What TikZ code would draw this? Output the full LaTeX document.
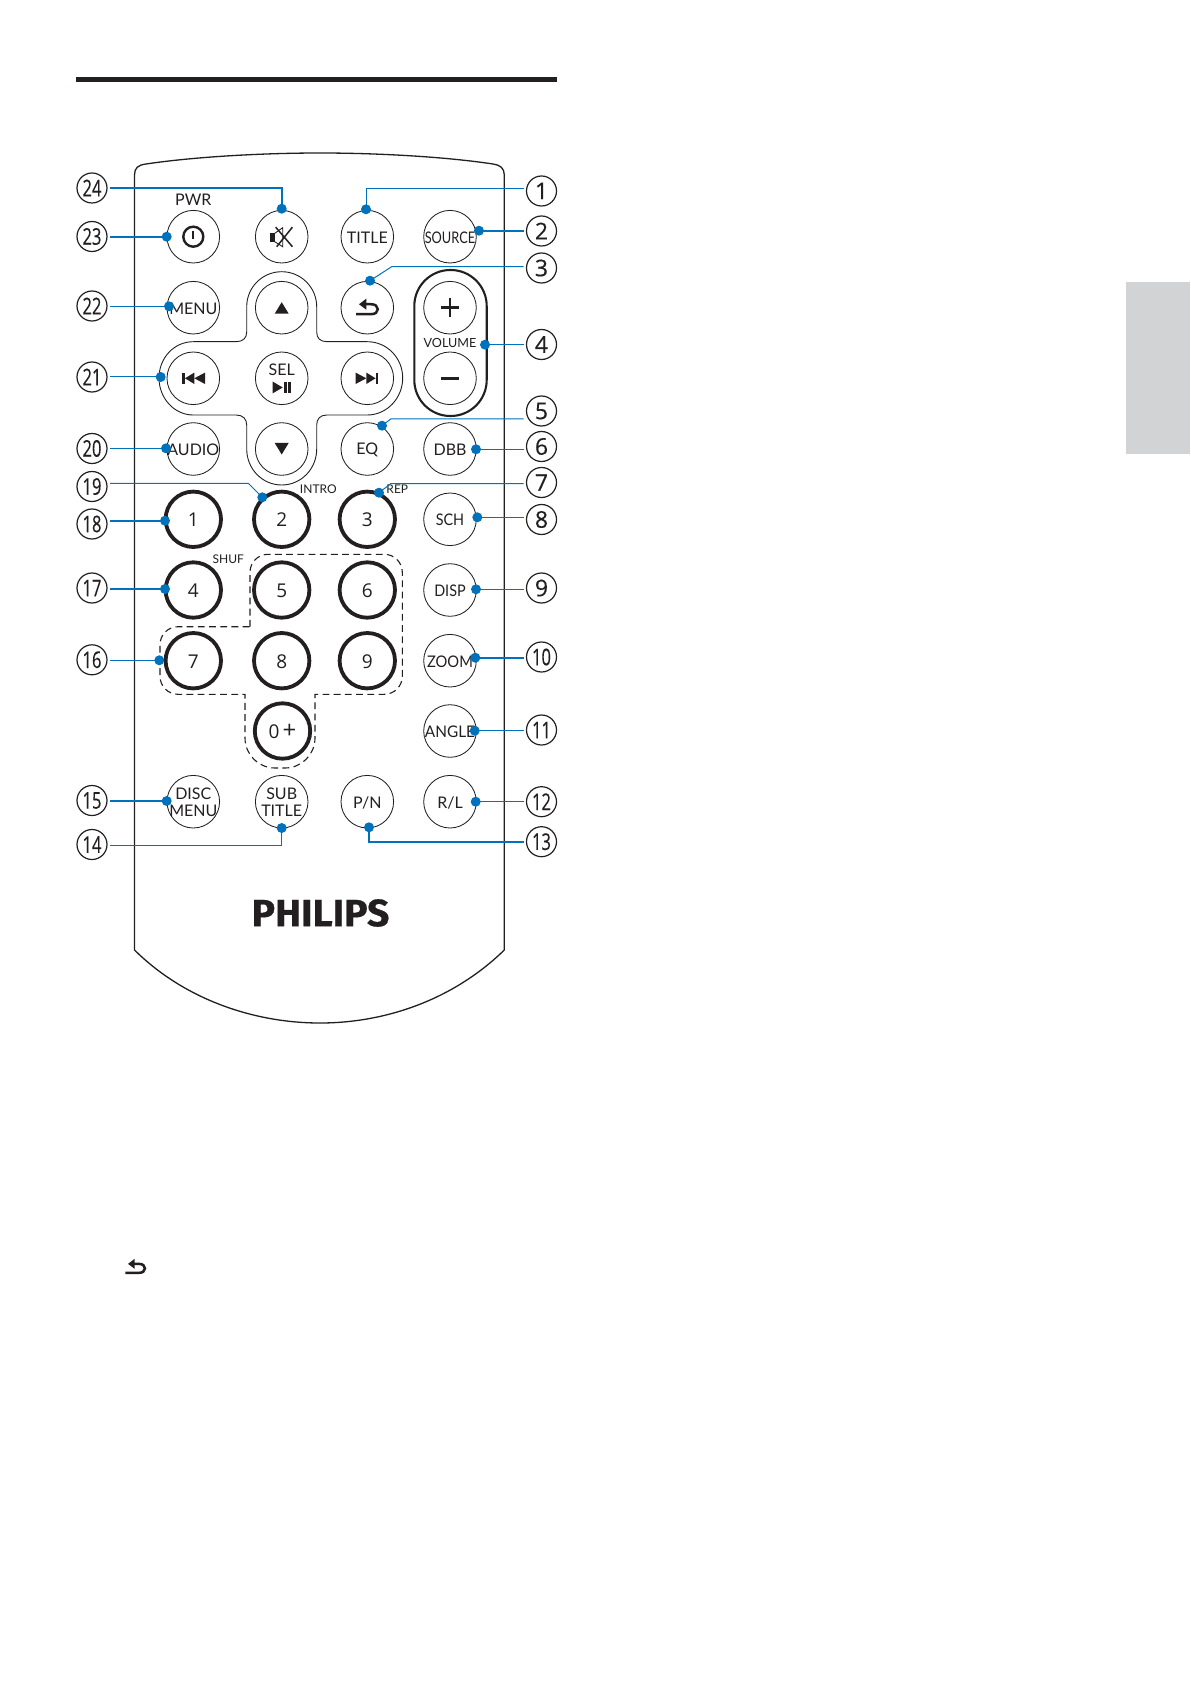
\documentclass[tikz,border=0pt]{standalone}
\usepackage{fontspec}
\usepackage{graphicx}
\setmainfont{Lato}
\newfontfamily\digitfont{Open Sans}
\newfontfamily\calloutfont{Open Sans}[FakeBold=.35]
\newfontfamily\logofont{Fira Sans Bold}[FakeBold=.5]
\definecolor{ink}{HTML}{231F20}
\definecolor{leadblue}{HTML}{0072BC}
\definecolor{tabgrey}{HTML}{D1D3D4}
\tikzset{
  px/.style={x=.5pt,y=-.5pt},
  btn/.style={circle,draw=ink,line width=.42pt,fill=white,minimum size=26.3pt,inner sep=0pt},
  numbtn/.style={circle,draw=ink,line width=1.9pt,fill=white,minimum size=27.7pt,inner sep=0pt},
  btntxt/.style={inner sep=0pt,yshift=-.4pt,text=ink,font=\fontsize{8}{8.4}\selectfont,align=center},
  numtxt/.style={inner sep=0pt,yshift=-.4pt,text=ink,font=\digitfont\fontsize{9.5}{9.5}\selectfont},
  smalltxt/.style={inner sep=0pt,text=ink,font=\fontsize{6}{6}\selectfont},
  callout/.style={circle,draw=ink,line width=.6pt,minimum size=15pt,inner sep=0pt,outer sep=1.5pt,text=ink,font=\calloutfont\fontsize{11.5}{11.5}\selectfont},
  dotn/.style={circle,fill=leadblue,minimum size=5pt,inner sep=0pt},
  leadthin/.style={draw=leadblue,line width=.5pt},
  leadthick/.style={draw=leadblue,line width=.9pt},
  iconfill/.style={fill=ink,draw=none},
}
\newcommand{\btnode}[5][btn]{%
  \node[#1] (#2) at (#3,#4) {};
  \node[btntxt] (#2-t) at (#2) {#5};}
\newcommand{\numnode}[4]{%
  \node[numbtn] (#1) at (#2,#3) {};
  \node[numtxt] (#1-t) at (#1) {#4};}
\newcommand{\twodig}[1]{\scalebox{.72}[1]{#1}}
\newcommand{\backglyph}{%
  \draw[ink,line width=1.25pt] (-11.3,6.5) -- (3.5,6.5) .. controls (8,6.5) and (10.5,4.5) .. (10.5,1.5) .. controls (10.5,-1.5) and (8,-3.5) .. (3.5,-3.5) -- (-3,-3.5);
  \fill[iconfill] (-8.3,-3.5) -- (-1,-9) -- (-1,2) -- cycle;}
\begin{document}
\begin{tikzpicture}[px]
\useasboundingbox (0,0) rectangle (1190,1684);
\fill[white] (0,0) rectangle (1190,1684);
% page furniture
\fill[ink] (76,76.8) rectangle (557,82);
\fill[tabgrey] (1126,282) rectangle (1190,454);
% remote body
\draw[ink,line width=.65pt] (134.5,950) -- (134.5,175) .. controls (134.5,168) and (138,165) .. (146,164) .. controls (200,156) and (270,153) .. (320,153) .. controls (370,153) and (440,156) .. (493,164) .. controls (500,165) and (504.3,168) .. (504.3,175) -- (504.3,950) .. controls (453,1000) and (385,1023) .. (320,1023) .. controls (255,1023) and (185,1000) .. (134.5,950) -- cycle;
% d-pad outline
\draw[ink,line width=.45pt] (246.7,306.7) .. controls (246.7,287.4) and (262.4,271.7) .. (281.7,271.7) .. controls (301,271.7) and (316.7,287.4) .. (316.7,306.7) -- (316.7,332) .. controls (316.7,338) and (320,341.7) .. (327,341.7) -- (367.3,341.7) .. controls (387,341.7) and (402.7,358) .. (402.7,378) .. controls (402.7,398) and (387,415) .. (367.3,415) -- (327,415) .. controls (320,415) and (316.7,419) .. (316.7,425) -- (316.7,449) .. controls (316.7,469) and (301,485) .. (281.7,485) .. controls (262.4,485) and (246.7,469) .. (246.7,449) -- (246.7,425) .. controls (246.7,419) and (243,415) .. (236,415) -- (193.3,415) .. controls (174,415) and (159,398) .. (159,378) .. controls (159,358) and (174,341.7) .. (193.3,341.7) -- (236,341.7) .. controls (243,341.7) and (246.7,338) .. (246.7,332) -- cycle;
% volume pill
\draw[ink,line width=1.05pt,rounded corners=18pt] (414.3,270) rectangle (486.7,416);
% dashed group
\draw[ink,line width=.55pt,dash pattern=on 3.4pt off 2.2pt]
  (250,626.7) [rounded corners=9pt] -- (250,554.3) -- (402.3,554.3) -- (402.3,694.3) [sharp corners] -- (315,694.3) [rounded corners=15pt] -- (315,768) -- (245,768) [sharp corners] -- (245,694.3) [rounded corners=9pt] -- (160,694.3) -- (160,626.7) [sharp corners] -- cycle;
% buttons
\btnode{pwr}{193.3}{236.7}{}
\btnode{mute}{281.7}{236.7}{}
\btnode{title}{367.3}{236.7}{TITLE}
\btnode{source}{450}{236.7}{\scalebox{.8}[1]{SOURCE}}
\btnode{menu}{193.3}{307.7}{MENU}
\btnode{up}{281.7}{307.7}{}
\btnode{back}{367.3}{307.7}{}
\btnode{plus}{450}{307.7}{}
\btnode{prev}{193.3}{378.3}{}
\btnode{sel}{281.7}{378.3}{}
\btnode{next}{367.3}{378.3}{}
\btnode{minus}{450}{378.3}{}
\btnode{audio}{193.3}{449}{AUDIO}
\btnode{down}{281.7}{449}{}
\btnode{eq}{367.3}{449}{EQ}
\btnode{dbb}{450}{449}{DBB}
\btnode{sch}{450}{519.3}{\scalebox{.9}[1]{SCH}}
\btnode{disp}{450}{590}{\scalebox{.9}[1]{DISP}}
\btnode{zoom}{450}{660.7}{\scalebox{.92}[1]{ZOOM}}
\btnode{angle}{450}{731}{\scalebox{.96}[1]{ANGLE}}
\btnode{discmenu}{193.3}{801.7}{DISC\\MENU}
\btnode{subtitle}{281.7}{801.7}{SUB\\TITLE}
\btnode{pn}{367.3}{801.7}{P/N}
\btnode{rl}{450}{801.7}{R/L}
% number buttons
\numnode{n1}{193.3}{519.3}{1}
\numnode{n2}{281.7}{519.3}{2}
\numnode{n3}{367.3}{519.3}{3}
\numnode{n4}{193.3}{590}{4}
\numnode{n5}{281.7}{590}{5}
\numnode{n6}{367.3}{590}{6}
\numnode{n7}{193.3}{660.7}{7}
\numnode{n8}{281.7}{660.7}{8}
\numnode{n9}{367.3}{660.7}{9}
\numnode{n0}{282.5}{731}{0\,{\fontsize{12}{12}\selectfont +}}
% small labels
\node[btntxt] (lpwr) at (193.3,199) {PWR};
\node[smalltxt] (lvol) at (450,343) {\fontsize{6.3}{6.3}\selectfont VOLUME};
\node[smalltxt] (lintro) at (318.3,489) {INTRO};
\node[smalltxt] (lrep) at (397.3,489) {REP};
\node[smalltxt] (lshuf) at (228.3,559) {SHUF};
\node[inner sep=0pt,text=ink] (logo) at (320.5,913) {\scalebox{1.03}[1]{\logofont\fontsize{19}{19}\selectfont PHILIPS}};
% icons
\begin{scope}[shift={(pwr.center)}]
  \draw[ink,line width=1.2pt] (0,0) circle[radius=10];
  \draw[ink,line width=.9pt] (0,-6) -- (0,2);
\end{scope}
\begin{scope}[shift={(mute.center)}]
  \fill[iconfill] (-11.7,-3.3) rectangle (-7,5);
  \draw[ink,line width=.45pt] (-7,-3.3) -- (1,-9) -- (1,10) -- (-7,5);
  \draw[ink,line width=.75pt] (-6,-9.5) -- (10.7,10) (10.7,-9.5) -- (-5,10);
\end{scope}
\begin{scope}[shift={(up.center)}]
  \fill[iconfill] (0,-5.5) -- (-7,6) -- (7,6) -- cycle;
\end{scope}
\begin{scope}[shift={(down.center)}]
  \fill[iconfill] (0,5.5) -- (-7,-6) -- (7,-6) -- cycle;
\end{scope}
\begin{scope}[shift={(prev.center)}]
  \fill[iconfill] (-11,-5.7) rectangle (-8.6,5.7);
  \fill[iconfill] (-8.3,0) -- (1,-5.7) -- (1,5.7) -- cycle;
  \fill[iconfill] (1,0) -- (11.7,-5.7) -- (11.7,5.7) -- cycle;
\end{scope}
\begin{scope}[shift={(next.center)}]
  \fill[iconfill] (11,-5.7) rectangle (8.6,5.7);
  \fill[iconfill] (8.3,0) -- (-1,-5.7) -- (-1,5.7) -- cycle;
  \fill[iconfill] (-1,0) -- (-11.7,-5.7) -- (-11.7,5.7) -- cycle;
\end{scope}
\begin{scope}[shift={(sel.center)}]
  \node[btntxt] (lsel) at (0,-9) {SEL};
  \fill[iconfill] (-9,3.3) -- (1,9.2) -- (-9,15) -- cycle;
  \fill[iconfill] (2.3,3.3) rectangle (5,15);
  \fill[iconfill] (6.7,3.3) rectangle (9,15);
\end{scope}
\begin{scope}[shift={(back.center)}]
  \backglyph
\end{scope}
\begin{scope}[shift={(plus.center)}]
  \fill[iconfill] (-9.3,-1.4) rectangle (9.3,1.4);
  \fill[iconfill] (-1.4,-9.3) rectangle (1.4,9.3);
\end{scope}
\begin{scope}[shift={(minus.center)}]
  \fill[iconfill] (-9.3,-1.4) rectangle (9.3,1.4);
\end{scope}
\coordinate (backpage) at (135.5,1267);
\begin{scope}[shift={(backpage)},scale=.9]
  \backglyph
\end{scope}
% callouts
\node[callout] (c1) at (541.5,191) {1};
\node[callout] (c2) at (541.5,231) {2};
\node[callout] (c3) at (541.5,268) {3};
\node[callout] (c4) at (541.5,344.5) {4};
\node[callout] (c5) at (541.5,411) {5};
\node[callout] (c6) at (541.5,446.5) {6};
\node[callout] (c7) at (541.5,482.5) {7};
\node[callout] (c8) at (541.5,519.5) {8};
\node[callout] (c9) at (541.5,588) {9};
\node[callout] (c10) at (541.5,657) {\twodig{10}};
\node[callout] (c11) at (541.5,730) {\twodig{11}};
\node[callout] (c12) at (541.5,801.7) {\twodig{12}};
\node[callout] (c13) at (541.5,841.7) {\twodig{13}};
\node[callout] (c14) at (92,844.5) {\twodig{14}};
\node[callout] (c15) at (92,800.5) {\twodig{15}};
\node[callout] (c16) at (92,659.8) {\twodig{16}};
\node[callout] (c17) at (92,588) {\twodig{17}};
\node[callout] (c18) at (92,524) {\twodig{18}};
\node[callout] (c19) at (92,486.5) {\twodig{19}};
\node[callout] (c20) at (92,448.5) {\twodig{20}};
\node[callout] (c21) at (92,377) {\twodig{21}};
\node[callout] (c22) at (92,306) {\twodig{22}};
\node[callout] (c23) at (92,236.5) {\twodig{23}};
\node[callout] (c24) at (92,188) {\twodig{24}};
% leader dots
\node[dotn] (d1) at (366,209.3) {};
\node[dotn] (d2) at (479,230.7) {};
\node[dotn] (d3) at (370,280.7) {};
\node[dotn] (d4) at (485,344.7) {};
\node[dotn] (d5) at (382,425.7) {};
\node[dotn] (d6) at (476,449.3) {};
\node[dotn] (d7) at (379,492.7) {};
\node[dotn] (d8) at (477.3,517.3) {};
\node[dotn] (d9) at (476,589.3) {};
\node[dotn] (d10) at (475.3,657.7) {};
\node[dotn] (d11) at (474.7,730.7) {};
\node[dotn] (d12) at (475.7,801.7) {};
\node[dotn] (d13) at (369,827.3) {};
\node[dotn] (d14) at (281.7,828) {};
\node[dotn] (d15) at (166.7,801) {};
\node[dotn] (d16) at (159.3,660.3) {};
\node[dotn] (d17) at (165,589) {};
\node[dotn] (d18) at (165,520.7) {};
\node[dotn] (d19) at (262.3,497.3) {};
\node[dotn] (d20) at (166,448.3) {};
\node[dotn] (d21) at (160.7,377) {};
\node[dotn] (d22) at (169,306.3) {};
\node[dotn] (d23) at (166.7,236.7) {};
\node[dotn] (d24) at (281.7,208.7) {};
% elbows
\coordinate (e1) at (366,188.3);
\coordinate (e3) at (391.7,266.7);
\coordinate (e5) at (390.7,419);
\coordinate (e7) at (390.7,483.7);
\coordinate (e13) at (369,842);
\coordinate (e14) at (281.7,845);
\coordinate (e19) at (248.3,483.3);
\coordinate (e24) at (281.7,188);
% leaders
\draw[leadthin] (d1.center) -- (e1) -- (e1 -| c1.west);
\draw[leadthick] (d2.center) -- (d2 -| c2.west);
\draw[leadthin] (d3.center) -- (e3) -- (e3 -| c3.west);
\draw[leadthin] (d4.center) -- (d4 -| c4.west);
\draw[leadthin] (d5.center) -- (e5) -- (e5 -| c5.west);
\draw[leadthin] (d6.center) -- (d6 -| c6.west);
\draw[leadthin] (d7.center) -- (e7) -- (e7 -| c7.west);
\draw[leadthin] (d8.center) -- (d8 -| c8.west);
\draw[leadthin] (d9.center) -- (d9 -| c9.west);
\draw[leadthick] (d10.center) -- (d10 -| c10.west);
\draw[leadthin] (d11.center) -- (d11 -| c11.west);
\draw[leadthin] (d12.center) -- (d12 -| c12.west);
\draw[leadthick] (d13.center) -- (e13) -- (e13 -| c13.west);
\draw[leadthin] (d14.center) -- (e14) -- (e14 -| c14.east);
\draw[leadthick] (d15.center) -- (d15 -| c15.east);
\draw[leadthin] (d16.center) -- (d16 -| c16.east);
\draw[leadthick] (d17.center) -- (d17 -| c17.east);
\draw[leadthick] (d18.center) -- (d18 -| c18.east);
\draw[leadthin] (d19.center) -- (e19) -- (e19 -| c19.east);
\draw[leadthin] (d20.center) -- (d20 -| c20.east);
\draw[leadthin] (d21.center) -- (d21 -| c21.east);
\draw[leadthin] (d22.center) -- (d22 -| c22.east);
\draw[leadthick] (d23.center) -- (d23 -| c23.east);
\draw[leadthick] (d24.center) -- (e24) -- (e24 -| c24.east);
\end{tikzpicture}
\end{document}
